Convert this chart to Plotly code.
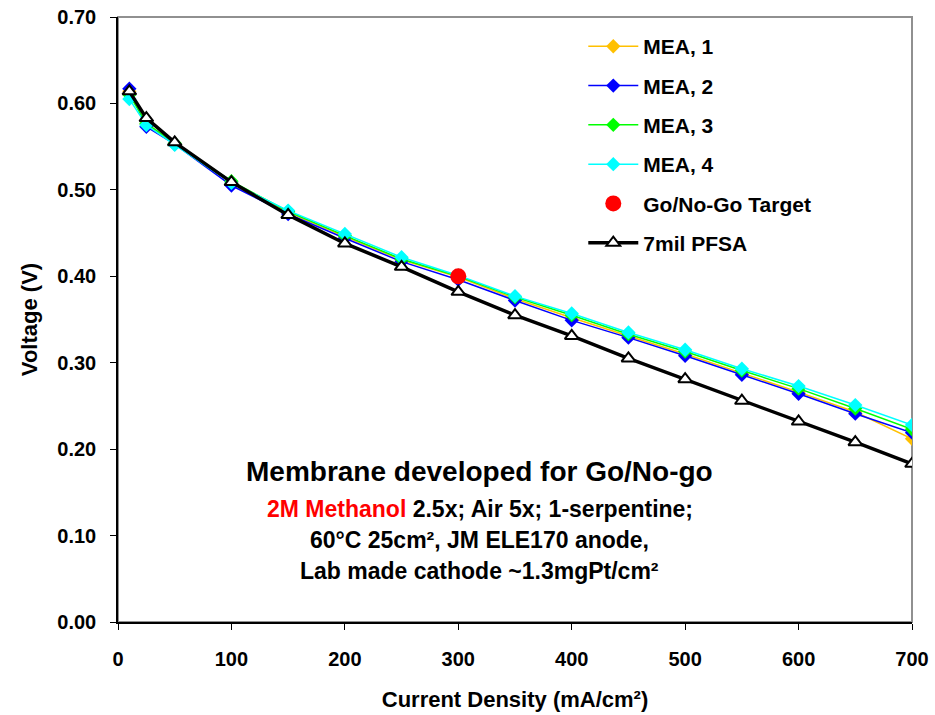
import plotly.graph_objects as go

current = [10, 25, 50, 100, 150, 200, 250, 300, 350, 400, 450, 500, 550, 600, 650, 700]
mea1 = [0.614, 0.576, 0.553, 0.508, 0.474, 0.446, 0.419, 0.399, 0.374, 0.352, 0.331, 0.310, 0.288, 0.266, 0.243, 0.212]
mea2 = [0.617, 0.573, 0.553, 0.505, 0.472, 0.444, 0.417, 0.396, 0.372, 0.349, 0.329, 0.308, 0.286, 0.264, 0.241, 0.219]
mea3 = [0.610, 0.577, 0.554, 0.510, 0.475, 0.447, 0.420, 0.400, 0.376, 0.355, 0.333, 0.313, 0.291, 0.270, 0.247, 0.223]
mea4 = [0.605, 0.575, 0.552, 0.508, 0.476, 0.449, 0.422, 0.401, 0.377, 0.357, 0.335, 0.315, 0.293, 0.273, 0.251, 0.228]
pfsa = [0.614, 0.583, 0.555, 0.509, 0.471, 0.438, 0.411, 0.382, 0.355, 0.331, 0.305, 0.281, 0.256, 0.232, 0.208, 0.183]
target_x = [300]
target_y = [0.40]

FONT = "Liberation Sans, Arial, sans-serif"

fig = go.Figure()
series = [
    ("MEA, 1", mea1, "#FFC000"),
    ("MEA, 2", mea2, "#0000FF"),
    ("MEA, 3", mea3, "#00FF00"),
    ("MEA, 4", mea4, "#00FFFF"),
]
for i, (name, ys, col) in enumerate(series):
    fig.add_trace(go.Scatter(
        x=current, y=ys, name=name, mode="lines+markers",
        line=dict(color=col, width=1.5),
        marker=dict(symbol="diamond", size=11, color=col),
        legendgroup=f"g{i}",
    ))
fig.add_trace(go.Scatter(
    x=target_x, y=target_y, name="Go/No-Go Target", mode="markers",
    marker=dict(symbol="circle", size=16, color="#FF0000"),
    legendgroup="g5",
))
fig.add_trace(go.Scatter(
    x=current, y=pfsa, name="7mil PFSA", mode="lines+markers",
    line=dict(color="#000000", width=3.5),
    marker=dict(symbol="triangle-up", size=12, color="white",
                line=dict(color="black", width=2)),
    legendgroup="g6",
))

fig.add_shape(type="rect", xref="paper", yref="paper", x0=0, y0=0, x1=1, y1=1,
              line=dict(color="#909090", width=2), layer="below")

ann_x = 319
fig.add_annotation(x=ann_x, y=0.1736, xref="x", yref="y", showarrow=False,
                   text="<b>Membrane developed for Go/No-go</b>",
                   font=dict(family=FONT, size=28, color="black"))
lines = [
    "<b><span style='color:#FF0000'>2M Methanol</span> 2.5x; Air 5x; 1-serpentine;</b>",
    "<b>60°C 25cm², JM ELE170 anode,</b>",
    "<b>Lab made cathode ~1.3mgPt/cm²</b>",
]
for t, yy in zip(lines, [0.1307, 0.0949, 0.0590]):
    fig.add_annotation(x=ann_x, y=yy, xref="x", yref="y", showarrow=False,
                       text=t, font=dict(family=FONT, size=23, color="black"))

fig.update_layout(
    width=935, height=715,
    margin=dict(l=118, r=23, t=17, b=93),
    paper_bgcolor="white", plot_bgcolor="white",
    font=dict(family=FONT, size=20, color="black"),
    showlegend=True,
    legend=dict(x=0.586, y=0.985, xanchor="left", yanchor="top",
                bgcolor="rgba(0,0,0,0)", font=dict(family=FONT, size=21, color="black", weight="bold"),
                tracegroupgap=9, itemwidth=50),
    xaxis=dict(range=[0, 700], tickvals=[0, 100, 200, 300, 400, 500, 600, 700],
               automargin=False,
               showgrid=False, zeroline=False, showline=True, linecolor="black", linewidth=1.5,
               ticks="outside", ticklen=6, tickcolor="black", ticklabelstandoff=12,
               tickfont=dict(family=FONT, size=20, weight="bold"),
               title=dict(text="<b>Current Density (mA/cm²)</b>", font=dict(family=FONT, size=22), standoff=23)),
    yaxis=dict(range=[0, 0.70], dtick=0.1, tickformat=".2f",
               automargin=False,
               showgrid=False, zeroline=False, showline=True, linecolor="black", linewidth=1.5,
               ticks="outside", ticklen=6, tickcolor="black", ticklabelstandoff=10,
               tickfont=dict(family=FONT, size=20, weight="bold"),
               title=dict(text="<b>Voltage (V)</b>", font=dict(family=FONT, size=22), standoff=14)),
)

fig.write_html("out.html")
